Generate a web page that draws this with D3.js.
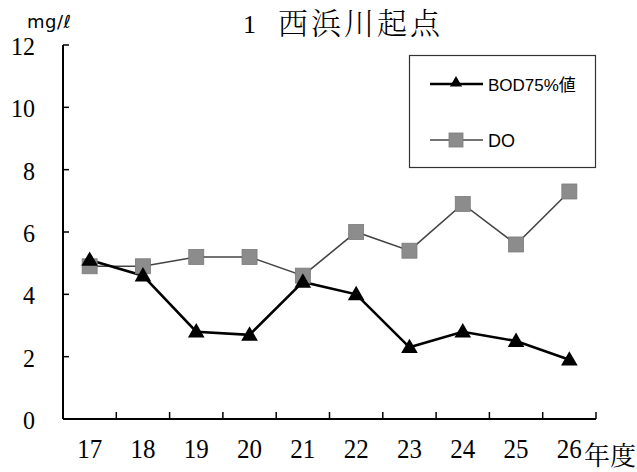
<!DOCTYPE html>
<html><head><meta charset="utf-8">
<script src="https://cdn.jsdelivr.net/npm/d3@7"></script>
<style>body{margin:0;background:#fff}</style>
</head><body>
<svg id="c" width="637" height="472"></svg>
<script>
const categories = ["17","18","19","20","21","22","23","24","25","26"];
const bodValues = [5.1,4.6,2.8,2.7,4.4,4.0,2.3,2.8,2.5,1.9];
const doValues = [4.9,4.9,5.2,5.2,4.6,6.0,5.4,6.9,5.6,7.3];
const yTicks = [0,2,4,6,8,10,12];
const seriesNames = ["BOD75%値","DO"];

const svg = d3.select("#c");
const pLeft = 63, pRight = 596, pTop = 45, pBottom = 419;
const x = d3.scaleBand().domain(categories).range([pLeft, pRight]);
const y = d3.scaleLinear().domain([0,12]).range([pBottom, pTop]);
const serif = "'Liberation Serif','DejaVu Serif',serif";
const cjk = "'Noto Serif CJK JP','Noto Sans CJK JP',sans-serif";
const sans = "'Liberation Sans',Arial,'Noto Sans CJK JP',sans-serif";

// axes
svg.append("line").attr("x1",pLeft).attr("x2",pLeft).attr("y1",y(12)).attr("y2",y(0)).attr("stroke","#000").attr("stroke-width",2);
svg.append("line").attr("x1",pLeft).attr("x2",pRight).attr("y1",y(0)).attr("y2",y(0)).attr("stroke","#000").attr("stroke-width",2);
svg.selectAll(".yt").data(yTicks).join("line").attr("x1",pLeft).attr("x2",pLeft+6).attr("y1",d=>y(d)).attr("y2",d=>y(d)).attr("stroke","#000").attr("stroke-width",1.5);
svg.selectAll(".yl").data(yTicks).join("text").attr("text-anchor","end").attr("font-family",serif).attr("font-size",24)
  .attr("transform",d=>`translate(35,${y(d)+10}) scale(1,1.08)`).text(d=>d);
svg.selectAll(".xt").data(categories).join("line").attr("x1",d=>x(d)+x.bandwidth()).attr("x2",d=>x(d)+x.bandwidth()).attr("y1",y(0)).attr("y2",y(0)-7).attr("stroke","#000").attr("stroke-width",1.5);
svg.selectAll(".xl").data(categories).join("text").attr("text-anchor","middle").attr("font-family",serif).attr("font-size",25)
  .attr("transform",d=>`translate(${x(d)+x.bandwidth()/2},458) scale(1,1.05)`).text(d=>d);
svg.append("text").attr("x",584).attr("y",465).attr("font-family",cjk).attr("font-size",26).text("年度");
svg.append("text").attr("x",27).attr("y",28).attr("font-family","'DejaVu Sans',sans-serif").attr("font-size",18).attr("letter-spacing",0.5).text("mg/ℓ");
svg.append("text").attr("x",243).attr("y",33).attr("font-family",serif).attr("font-size",26).text("1");
svg.append("text").attr("x",278).attr("y",34).attr("font-family",cjk).attr("font-size",30).attr("letter-spacing",3).attr("font-weight",300).text("西浜川起点");

const cx = d => x(d)+x.bandwidth()/2;
const lineGen = d3.line().x((d,i)=>cx(categories[i])).y(d=>y(d));
svg.append("path").attr("d",lineGen(doValues)).attr("fill","none").attr("stroke","#444").attr("stroke-width",1.6);
svg.append("path").attr("d",lineGen(bodValues)).attr("fill","none").attr("stroke","#000").attr("stroke-width",2.6);
const sq = 15;
svg.selectAll(".sq").data(doValues).join("rect").attr("x",(d,i)=>cx(categories[i])-sq/2).attr("y",d=>y(d)-sq/2).attr("width",sq).attr("height",sq).attr("fill","#8c8c8c").attr("stroke","#7a7a7a").attr("stroke-width",0.8);
const tri = d3.symbol().type(d3.symbolTriangle).size(120);
svg.selectAll(".tr").data(bodValues).join("path").attr("d",tri).attr("transform",(d,i)=>`translate(${cx(categories[i])},${y(d)+1})`).attr("fill","#000");

// legend
svg.append("rect").attr("x",409.5).attr("y",55.5).attr("width",186).attr("height",112).attr("fill","#fff").attr("stroke","#333").attr("stroke-width",1.2);
svg.append("line").attr("x1",430).attr("x2",483).attr("y1",84).attr("y2",84).attr("stroke","#000").attr("stroke-width",2.6);
svg.append("path").attr("d",d3.symbol().type(d3.symbolTriangle).size(65)).attr("transform","translate(456,83)").attr("fill","#000");
svg.append("text").attr("x",488).attr("y",91).attr("font-family",sans).attr("font-size",17).text(seriesNames[0]);
svg.append("line").attr("x1",430).attr("x2",483).attr("y1",140).attr("y2",140).attr("stroke","#444").attr("stroke-width",1.6);
svg.append("rect").attr("x",456-7).attr("y",140-7).attr("width",14).attr("height",14).attr("fill","#8c8c8c").attr("stroke","#7a7a7a").attr("stroke-width",0.8);
svg.append("text").attr("x",488).attr("y",147).attr("font-family",sans).attr("font-size",18).text(seriesNames[1]);
</script>
</body></html>
